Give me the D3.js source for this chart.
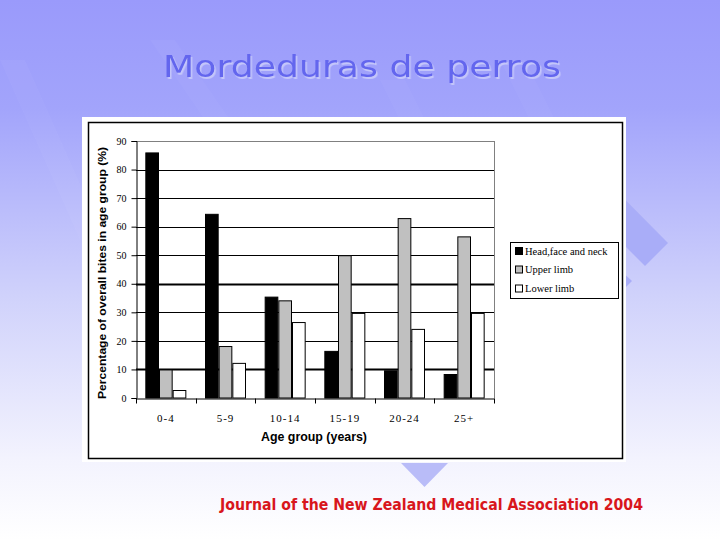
<!DOCTYPE html>
<html><head><meta charset="utf-8">
<script src="https://cdn.jsdelivr.net/npm/d3@7"></script>
<style>html,body{margin:0;padding:0;background:#fff;}svg{display:block;}</style>
</head><body>
<script>
const categories = ["0-4","5-9","10-14","15-19","20-24","25+"];
const seriesNames = ["Head,face and neck","Upper limb","Lower limb"];
const headFaceNeck = [86, 64.5, 35.5, 16.5, 9.7, 8.4];
const upperLimb = [10, 18.2, 34.2, 50, 63, 56.6];
const lowerLimb = [2.8, 12.3, 26.6, 29.8, 24.2, 29.8];
const yTicks = [0,10,20,30,40,50,60,70,80,90];
const title = "Mordeduras de perros";
const footer = "Journal of the New Zealand Medical Association 2004";
const xTitle = "Age group (years)";
const yTitle = "Percentage of overall bites in age group (%)";

(function(){
const W = 720, H = 540;
const SERIF = "'Liberation Serif','Times New Roman',Times,'DejaVu Serif',serif";
const svg = d3.select("body").append("svg").attr("width", W).attr("height", H);
const defs = svg.append("defs");
const g = defs.append("linearGradient").attr("id","bg").attr("x1",0).attr("y1",0).attr("x2",0).attr("y2",1);
g.append("stop").attr("offset","0").attr("stop-color","#9a9afb");
g.append("stop").attr("offset","0.2").attr("stop-color","#a2a4fb");
g.append("stop").attr("offset","0.55").attr("stop-color","#d0d2fb");
g.append("stop").attr("offset","0.85").attr("stop-color","#f3f3fe");
g.append("stop").attr("offset","1").attr("stop-color","#ffffff");
svg.append("rect").attr("width",W).attr("height",H).attr("fill","url(#bg)");
const f = defs.append("filter").attr("id","shadow").attr("x","-5%").attr("y","-20%").attr("width","110%").attr("height","140%");
f.append("feDropShadow").attr("dx",1.5).attr("dy",2).attr("stdDeviation",0.4).attr("flood-color","#c4c6fa").attr("flood-opacity",1);

// subtle diagonal stripes
const stripes = [[0,60,80,240],[150,40,260,200],[380,80,460,240],[500,60,580,220]];
stripes.forEach(s=>{
  svg.append("polygon")
    .attr("points", `${s[0]},${s[1]} ${s[0]+25},${s[1]} ${s[2]+25},${s[3]} ${s[2]},${s[3]}`)
    .attr("fill","#ffffff").attr("opacity",0.03);
});

// decorative shapes
svg.append("polygon").attr("points","560,134 668,243 645,266 560,181").attr("fill","#a9adf8");
svg.append("polygon").attr("points","620,270 632,281 620,293").attr("fill","#a9adf8");
svg.append("polygon").attr("points","401,463 448,463 424.5,487").attr("fill","#b9bcf8");

// title
svg.append("text").attr("x",362).attr("y",77).attr("text-anchor","middle")
  .attr("font-family","'Comic Sans MS','DejaVu Sans',sans-serif").attr("font-size",30)
  .attr("fill","#6466ee").attr("filter","url(#shadow)")
  .attr("textLength",398).attr("lengthAdjust","spacingAndGlyphs").text(title);

// footer
svg.append("text").attr("x",220).attr("y",510)
  .attr("font-family","'Comic Sans MS','DejaVu Sans',sans-serif").attr("font-size",15).attr("font-weight","bold")
  .attr("fill","#d8161c").attr("textLength",423).attr("lengthAdjust","spacingAndGlyphs").text(footer);

// chart panel
svg.append("rect").attr("x",82).attr("y",117).attr("width",544).attr("height",345).attr("fill","#fff");
svg.append("rect").attr("x",88.5).attr("y",122.5).attr("width",534).attr("height",336)
  .attr("fill","none").attr("stroke","#000").attr("stroke-width",1.5);

const pL = 136, pR = 494, pT = 141, pB = 398;
const x = d3.scaleBand().domain(categories).range([pL,pR]).paddingInner(0).paddingOuter(0);
const y = d3.scaleLinear().domain([0,90]).range([pB,pT]);
const xs = d3.scaleBand().domain([0,1,2]).range([0, 41]);
const bandPad = (x.bandwidth()-41)/2;

// gridlines
const plot = svg.append("g");
yTicks.filter(t=>t>0).forEach(t=>{
  plot.append("line").attr("x1",pL).attr("x2",pR).attr("y1",Math.round(y(t))+0.5).attr("y2",Math.round(y(t))+0.5)
    .attr("stroke", t===90 ? "#808080" : "#000")
    .attr("stroke-width", (t===10||t===40) ? 2 : 1);
});
plot.append("line").attr("x1",pR+0.5).attr("x2",pR+0.5).attr("y1",pT).attr("y2",pB).attr("stroke","#808080");

// bars
const series = [headFaceNeck, upperLimb, lowerLimb];
const fills = ["#000000","#c0c0c0","#ffffff"];
series.forEach((vals,si)=>{
  plot.selectAll(null).data(vals).enter().append("rect")
    .attr("x",(d,i)=>x(categories[i])+bandPad+xs(si)+0.5)
    .attr("y",d=>y(d)+0.5)
    .attr("width",xs.bandwidth()-1)
    .attr("height",d=>pB-y(d)-0.5)
    .attr("fill",fills[si]).attr("stroke","#000").attr("stroke-width",1);
});

// axes
const yAxis = d3.axisLeft(y).tickValues(yTicks).tickSize(5).tickPadding(5);
const ya = svg.append("g").attr("transform",`translate(${pL+0.5},0)`).call(yAxis);
ya.attr("font-family",SERIF).attr("font-size",10);
ya.select(".domain").attr("stroke","#000");
ya.selectAll("text").style("font-family",SERIF).style("font-size","10px").attr("fill","#000");

const xAxis = d3.axisBottom(x).tickSize(0).tickPadding(16);
const xa = svg.append("g").attr("transform",`translate(0,${pB+0.5})`).call(xAxis);
xa.attr("font-family",SERIF).attr("font-size",11);
xa.select(".domain").attr("stroke","#000");
xa.selectAll("text").style("font-family",SERIF).style("font-size","11px")
  .attr("letter-spacing","1px").attr("fill","#000");
const bounds = categories.map(c=>x(c)).concat([pR]);
xa.selectAll(".bt").data(bounds).enter().append("line").attr("class","bt")
  .attr("x1",d=>Math.round(d)+0.5).attr("x2",d=>Math.round(d)+0.5).attr("y1",0).attr("y2",5).attr("stroke","#000");

// axis titles
svg.append("text").attr("x",314).attr("y",441).attr("text-anchor","middle")
  .attr("font-family","'Liberation Sans',Arial,sans-serif").attr("font-size",12).attr("font-weight","bold")
  .attr("textLength",106).attr("lengthAdjust","spacingAndGlyphs").text(xTitle);
svg.append("text").attr("transform","translate(106,273) rotate(-90)").attr("text-anchor","middle")
  .attr("font-family","'Liberation Sans',Arial,sans-serif").attr("font-size",11).attr("font-weight","bold")
  .attr("textLength",252).attr("lengthAdjust","spacingAndGlyphs").text(yTitle);

// legend
const lg = svg.append("g");
lg.append("rect").attr("x",510.5).attr("y",242.5).attr("width",108).attr("height",56).attr("fill","#fff").attr("stroke","#000");
const rowsY = [251, 269.5, 288.5];
seriesNames.forEach((n,i)=>{
  lg.append("rect").attr("x",515.5).attr("y",rowsY[i]-3.5).attr("width",7).attr("height",7)
    .attr("fill",fills[i]).attr("stroke","#000");
  lg.append("text").attr("x",525).attr("y",rowsY[i]+3.5)
    .style("font-family",SERIF).style("font-size","10.5px").text(n);
});
})();
</script>
</body></html>
